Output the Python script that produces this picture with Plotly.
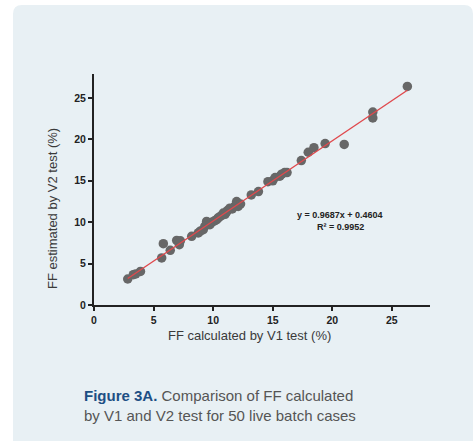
import plotly.graph_objects as go

# Data
ff_v1 = [2.83, 3.3, 3.5, 3.9, 5.68, 5.82, 6.4, 6.94, 7.16, 7.25,
         8.2, 8.75, 8.9, 9.17, 9.3, 9.45, 9.73, 9.9, 10.1, 10.3,
         10.5, 10.7, 10.85, 11.0, 11.2, 11.4, 11.6, 11.8, 11.97, 12.1,
         12.3, 13.2, 13.8, 14.6, 15.0, 15.2, 15.6, 15.75, 16.0, 16.2,
         17.4, 17.98, 18.46, 19.4, 21.0, 23.4, 23.4, 26.3, 10.4, 11.1]
ff_v2 = [3.14, 3.66, 3.75, 4.06, 5.68, 7.41, 6.6, 7.8, 7.29, 7.75,
         8.3, 8.7, 8.9, 9.1, 9.5, 10.1, 9.7, 10.0, 10.15, 10.3,
         10.6, 10.8, 11.1, 10.95, 11.4, 11.7, 11.6, 11.9, 12.5, 11.9,
         12.2, 13.3, 13.7, 14.9, 15.0, 15.4, 15.55, 15.8, 16.0, 16.0,
         17.45, 18.45, 19.0, 19.5, 19.4, 23.3, 22.6, 26.4, 10.5, 11.2]
slope = 0.9687
intercept = 0.4604
x_ticks = [0, 5, 10, 15, 20, 25]
y_ticks = [0, 5, 10, 15, 20, 25]

fit_x = [min(ff_v1), max(ff_v1)]
fit_y = [slope * v + intercept for v in fit_x]

fig = go.Figure()
fig.add_trace(go.Scatter(x=ff_v1, y=ff_v2, mode="markers",
                         marker=dict(size=9.5, color="#676767", line=dict(width=0)),
                         showlegend=False, hoverinfo="x+y"))
fig.add_trace(go.Scatter(x=fit_x, y=fit_y, mode="lines",
                         line=dict(color="#e0494d", width=1.4),
                         showlegend=False, hoverinfo="skip"))

W, H = 476, 441
l, r, t, b = 94, 46, 74, 136
pw, ph = W - l - r, H - t - b
def px(xp):
    return (xp - l) / pw
def py(yp):
    return (H - b - yp) / ph
x0, x1, y0, y1, rad = 13, 473, 5, 441, 9
path = (f"M {px(x0)},{py(y0+rad)} Q {px(x0)},{py(y0)} {px(x0+rad)},{py(y0)} "
        f"L {px(x1-rad)},{py(y0)} Q {px(x1)},{py(y0)} {px(x1)},{py(y0+rad)} "
        f"L {px(x1)},{py(y1)} L {px(x0)},{py(y1)} Z")

def note(text, xp, yp, size, color, xanchor="center", angle=0):
    return dict(text=text, x=px(xp), y=py(yp), xref="paper", yref="paper",
                showarrow=False, xanchor=xanchor, yanchor="middle",
                textangle=angle, font=dict(size=size, color=color))

tickfont = dict(size=10.5, color="#222", family="Liberation Sans, Arial")
fig.update_layout(
    width=W, height=H,
    margin=dict(l=l, r=r, t=t, b=b, autoexpand=False),
    paper_bgcolor="white",
    plot_bgcolor="rgba(0,0,0,0)",
    font=dict(family="Liberation Sans, Arial, sans-serif", color="#333333"),
    shapes=[dict(type="path", path=path, xref="paper", yref="paper",
                 fillcolor="#e8f0f4", line=dict(width=0), layer="below")],
    xaxis=dict(range=[0, 28.2], tickvals=x_ticks, ticktext=[f"<b>{v}</b>" for v in x_ticks],
               ticks="outside", ticklen=4, automargin=False,
               tickwidth=1.5, tickcolor="#222", showline=True, linecolor="#222",
               linewidth=2, showgrid=False, zeroline=False, tickfont=tickfont),
    yaxis=dict(range=[0, 27.9], tickvals=y_ticks, ticktext=[f"<b>{v}</b>" for v in y_ticks],
               ticks="outside", ticklen=4, automargin=False,
               tickwidth=1.5, tickcolor="#222", showline=True, linecolor="#222",
               linewidth=2, showgrid=False, zeroline=False, tickfont=tickfont),
    annotations=[
        note("FF calculated by V1 test (%)", 249, 335, 13, "#3a3a3a"),
        note("FF estimated by V2 test (%)", 52, 209, 13, "#3a3a3a", angle=-90),
        note("<b>y = 0.9687x + 0.4604</b>", 340, 215, 9, "#222"),
        note("<b>R² = 0.9952</b>", 340, 227, 9, "#222"),
        note("<span style='color:#1d4f84'><b>Figure 3A.</b></span> Comparison of FF calculated",
             82, 395, 15, "#555555", xanchor="left"),
        note("by V1 and V2 test for 50 live batch cases", 82, 415, 15, "#555555",
             xanchor="left"),
    ],
)

fig.write_html("out.html", config={"displayModeBar": False},
               post_script="document.body.style.margin='0';")
